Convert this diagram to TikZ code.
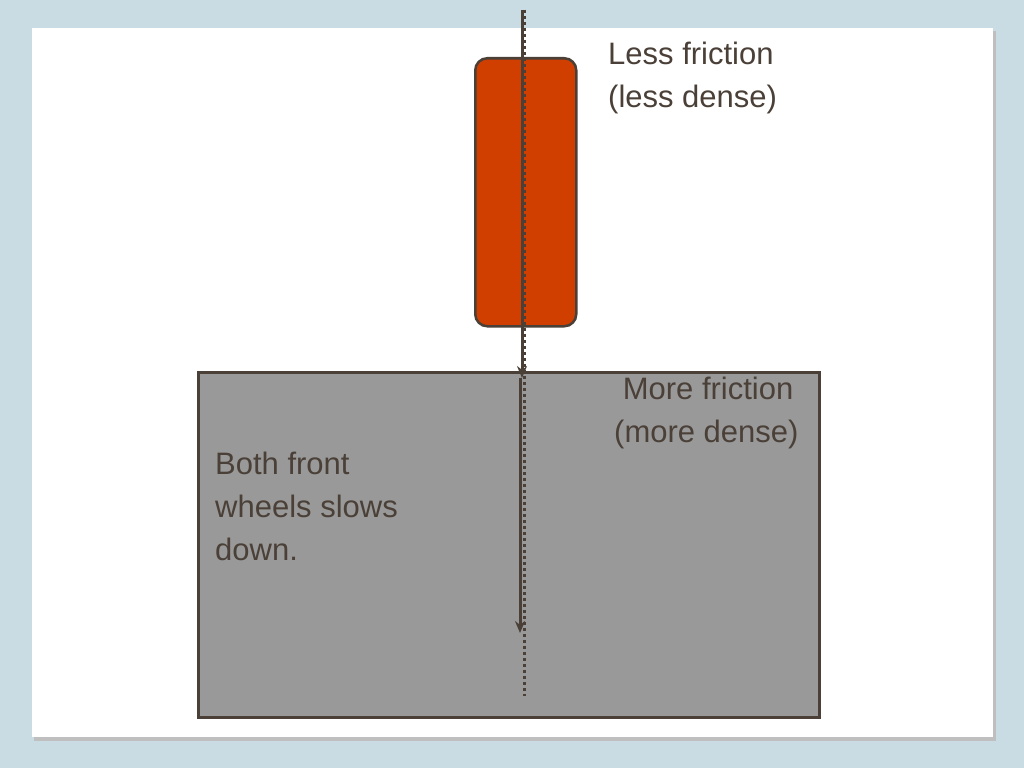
\documentclass[tikz,border=0pt]{standalone}
\usepackage{fontspec}
\setmainfont{Liberation Sans}
\usetikzlibrary{arrows.meta}
\definecolor{bgc}{HTML}{C9DBE3}
\definecolor{ink}{HTML}{4A4038}
\definecolor{redf}{HTML}{D03F00}
\definecolor{grayf}{HTML}{999999}
\tikzset{lbl/.style={font=\fontsize{31}{43}\selectfont, text=ink, align=left, inner sep=0pt},
 vec/.style={draw=ink, line width=3pt, -{Stealth[length=12pt,width=10pt]}},
 dots/.style={draw=ink, line width=3pt, dash pattern=on 3pt off 3pt}}
\begin{document}
\begin{tikzpicture}[x=1pt,y=-1pt]
\fill[bgc] (0,0) rectangle (1024,768);
\useasboundingbox (0,0) rectangle (1024,768);
\fill[black!25] (34,31) rectangle (996,741);
\fill[white] (32,28) rectangle (993,737);
\node[draw=ink, line width=2.5pt, fill=grayf, minimum width=621pt, minimum height=345pt, anchor=north west, inner sep=0pt] (ground) at (197,371) {};
\node[draw=ink, line width=2.5pt, fill=redf, rounded corners=12pt, minimum width=101pt, minimum height=268pt, anchor=north west, inner sep=0pt] (car) at (474,57) {};
\coordinate (top) at (522,10);
\coordinate (s1) at (522,58);
\coordinate (hit) at (522,378);
\coordinate (s2) at (520,378);
\coordinate (end2) at (520,633);
\coordinate (dend) at (524,696);
\draw[dots] (524,10) -- (dend);
\draw[vec] (top) -- (hit);
\draw[vec] (s2) -- (end2);
\node[lbl, anchor=north west] (less) at (608,42) {Less friction\\(less dense)};
\node[lbl, anchor=north west] (more) at (614,377) {\ More friction\\(more dense)};
\node[lbl, anchor=north west] (both) at (215,452) {Both front\\wheels slows\\down.};
\end{tikzpicture}
\end{document}
